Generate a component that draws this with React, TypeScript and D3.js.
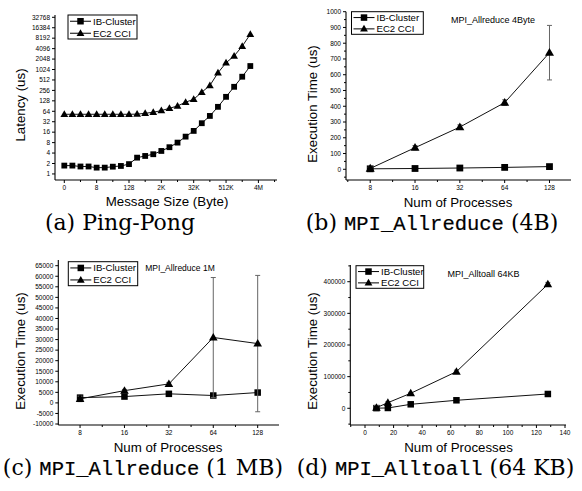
import React from 'react';
import * as d3 from 'd3';

// ---------- Panel (a) Ping-Pong ----------
const pingSizes = ["0","1","2","4","8","16","32","64","128","256","512","1K","2K","4K","8K","16K","32K","64K","128K","256K","512K","1M","2M","4M"];
const pingTickLabels = ["0","8","128","2K","32K","512K","4M"];
const pingIB = [1.74,1.74,1.64,1.64,1.52,1.52,1.62,1.7,1.92,2.95,3.3,3.7,4.6,5.9,8.0,11.9,17.4,29,47,86,167,325,635,1290];
const pingEC2 = [52.5,52.5,52.5,52.5,52.5,52.5,52.5,52.5,52.5,53,56,60,67,78,91,117,142,227,355,820,1600,2520,4800,10660];
const latencyTicks = [1,2,4,8,16,32,64,128,256,512,1024,2048,4096,8192,16384,32768];

// ---------- Panels (b)(c)(d) ----------
const procs = [8,16,32,64,128];
const procLabels = ["8","16","32","64","128"];

const ar4IB = [3,5,8,12,17];
const ar4EC2 = [5,137,268,423,740];
const ar4EC2Err = [8,14,14,18,173];

const ar1mIB = [2500,3000,4300,3500,4900];
const ar1mEC2 = [1900,5800,9000,31000,28100];
const ar1mEC2Err = [1300,600,700,28400,32300];

const a2aIB = [500,1000,12600,25300,45200];
const a2aEC2 = [2000,17700,47400,115700,391800];
const a2aEC2Err = [7000,3000,3000,5000,6000];

const seriesNames = ["IB-Cluster","EC2 CCI"];

const SANS = '"Liberation Sans", Arial, sans-serif';
const SERIF = '"DejaVu Serif", serif';
const MONO = '"Liberation Mono", monospace';

function Marker({ type, x, y, s }: { type: string; x: number; y: number; s: number }) {
  if (type === 'square') {
    return <rect x={x - s / 2} y={y - s / 2} width={s} height={s} fill="#000" />;
  }
  const pts = [[x, y - s * 0.62], [x - s * 0.6, y + s * 0.42], [x + s * 0.6, y + s * 0.42]];
  return <polygon points={pts.map(p => p.join(',')).join(' ')} fill="#000" />;
}

function Legend({ x0, y0, x1, y1 }: { x0: number; y0: number; x1: number; y1: number }) {
  const h = y1 - y0;
  const rows = [y0 + h * 0.26, y0 + h * 0.76];
  return (
    <g>
      <rect x={x0} y={y0} width={x1 - x0} height={h} fill="#fff" stroke="#000" strokeWidth={1} />
      {rows.map((ry, i) => (
        <g key={i}>
          <line x1={x0 + 2} x2={x0 + 23} y1={ry} y2={ry} stroke="#000" strokeWidth={1} />
          <Marker type={i === 0 ? 'square' : 'triangle'} x={x0 + 12.5} y={ry} s={6.5} />
          <text x={x0 + 25} y={ry + 3.4} fontSize={9.6} fontFamily={SANS}>{seriesNames[i]}</text>
        </g>
      ))}
    </g>
  );
}

type Ax = {
  x: (v: number) => number;
  y: (v: number) => number;
  left: number; right: number; top: number; bottom: number;
  xMajor: number[]; xLabels: string[]; xMinor: number[];
  yMajor: number[]; yLabels: string[]; yMinor: number[];
};

function Axes({ a }: { a: Ax }) {
  const fs = 6.5;
  return (
    <g fontFamily={SANS} fontSize={fs}>
      <line x1={a.left} x2={a.left} y1={a.top} y2={a.bottom} stroke="#000" strokeWidth={1.1} />
      <line x1={a.left} x2={a.right} y1={a.bottom} y2={a.bottom} stroke="#000" strokeWidth={1.1} />
      {a.yMajor.map((v, i) => (
        <g key={'ym' + i}>
          <line x1={a.left - 3} x2={a.left} y1={a.y(v)} y2={a.y(v)} stroke="#000" />
          <text x={a.left - 5} y={a.y(v) + 2.3} textAnchor="end">{a.yLabels[i]}</text>
        </g>
      ))}
      {a.yMinor.map((v, i) => (
        <line key={'yn' + i} x1={a.left - 2} x2={a.left} y1={a.y(v)} y2={a.y(v)} stroke="#000" />
      ))}
      {a.xMajor.map((v, i) => (
        <g key={'xm' + i}>
          <line x1={a.x(v)} x2={a.x(v)} y1={a.bottom} y2={a.bottom + 3} stroke="#000" />
          <text x={a.x(v)} y={a.bottom + 9.5} textAnchor="middle">{a.xLabels[i]}</text>
        </g>
      ))}
      {a.xMinor.map((v, i) => (
        <line key={'xn' + i} x1={a.x(v)} x2={a.x(v)} y1={a.bottom} y2={a.bottom + 2} stroke="#000" />
      ))}
    </g>
  );
}

function SeriesPlot({ xs, ys, err, type, x, y, s }: { xs: number[]; ys: number[]; err?: number[]; type: string; x: (v: number) => number; y: (v: number) => number; s: number }) {
  const line = d3.line<number>().x((_, i) => x(xs[i])).y(v => y(v));
  return (
    <g>
      {err && ys.map((v, i) => (
        <g key={'e' + i} stroke="#666" strokeWidth={1}>
          <line x1={x(xs[i])} x2={x(xs[i])} y1={y(v - err[i])} y2={y(v + err[i])} />
          <line x1={x(xs[i]) - 2.5} x2={x(xs[i]) + 2.5} y1={y(v - err[i])} y2={y(v - err[i])} />
          <line x1={x(xs[i]) - 2.5} x2={x(xs[i]) + 2.5} y1={y(v + err[i])} y2={y(v + err[i])} />
        </g>
      ))}
      <path d={line(ys) || ''} fill="none" stroke="#111" strokeWidth={1} />
      {ys.map((v, i) => <Marker key={i} type={type} x={x(xs[i])} y={y(v)} s={s} />)}
    </g>
  );
}

function AxisTitles({ xt, xx, xy, yt, yx, yy }: { xt: string; xx: number; xy: number; yt: string; yx: number; yy: number }) {
  return (
    <g fontFamily={SANS} fontSize={13.3}>
      <text x={xx} y={xy} textAnchor="middle">{xt}</text>
      <text transform={`translate(${yx},${yy}) rotate(-90)`} textAnchor="middle">{yt}</text>
    </g>
  );
}

function Caption({ x, y, pre, mono, post }: { x: number; y: number; pre: string; mono?: string; post?: string }) {
  return (
    <text x={x} y={y} textAnchor="middle" fontSize={22} fontFamily={SERIF}>
      <tspan>{pre}</tspan>
      {mono && <tspan fontFamily={MONO} fontSize={20.5} stroke="#000" strokeWidth={0.2}>{mono}</tspan>}
      {post && <tspan>{post}</tspan>}
    </text>
  );
}

export default function App() {
  // Panel a
  const pingIdx = pingSizes.map((_, i) => i);
  const ax = d3.scaleLinear().domain([-1.15, 26.3]).range([55, 277]);
  const ay = d3.scaleLog().base(2).domain([Math.pow(2, -0.58), Math.pow(2, 15.22)]).range([180, 15]);
  const axA: Ax = {
    x: ax, y: ay, left: 55, right: 277, top: 15, bottom: 180,
    xMajor: pingTickLabels.map((_, i) => i * 4), xLabels: pingTickLabels,
    xMinor: pingTickLabels.slice(0, -1).map((_, i) => i * 4 + 2).concat([26]),
    yMajor: latencyTicks, yLabels: latencyTicks.map(String), yMinor: [],
  };

  // Panel b
  const procIdx = procs.map((_, i) => i);
  const bx = d3.scaleLinear().domain([-0.54, 4.48]).range([346, 571]);
  const by = d3.scaleLinear().domain([-68, 1000]).range([180, 11.7]);
  const axB: Ax = {
    x: bx, y: by, left: 346, right: 571, top: 11.7, bottom: 180,
    xMajor: procIdx, xLabels: procLabels, xMinor: [-0.5, 0.5, 1.5, 2.5, 3.5, 4.5].filter(v => v > -0.54 && v < 4.48),
    yMajor: d3.range(0, 1001, 100), yLabels: d3.range(0, 1001, 100).map(String), yMinor: d3.range(50, 1000, 100).concat([-50]),
  };

  // Panel c
  const cx = d3.scaleLinear().domain([-0.49, 4.48]).range([58.3, 279]);
  const cy = d3.scaleLinear().domain([-10470, 67700]).range([425, 260]);
  const cTicks = d3.range(-10000, 65001, 5000);
  const axC: Ax = {
    x: cx, y: cy, left: 58.3, right: 279, top: 260, bottom: 425,
    xMajor: procIdx, xLabels: procLabels, xMinor: [0.5, 1.5, 2.5, 3.5],
    yMajor: cTicks, yLabels: cTicks.map(String), yMinor: [],
  };

  // Panel d
  const dx = d3.scaleLinear().domain([-10.3, 140.7]).range([350.3, 566]);
  const dy = d3.scaleLinear().domain([-52800, 452800]).range([425, 265]);
  const dTicks = d3.range(0, 400001, 100000);
  const dxTicks = d3.range(0, 141, 20);
  const axD: Ax = {
    x: dx, y: dy, left: 350.3, right: 566, top: 265, bottom: 425,
    xMajor: dxTicks, xLabels: dxTicks.map(String), xMinor: d3.range(-10, 141, 20),
    yMajor: dTicks, yLabels: dTicks.map(String), yMinor: d3.range(-50000, 450001, 100000),
  };

  return (
    <svg width={582} height={491} style={{ position: 'absolute', left: 0, top: 0, background: '#fff' }}>
      <rect width={582} height={491} fill="#fff" />
      {/* (a) */}
      <Axes a={axA} />
      <SeriesPlot xs={pingIdx} ys={pingIB} type="square" x={ax} y={ay} s={5.8} />
      <SeriesPlot xs={pingIdx} ys={pingEC2} type="triangle" x={ax} y={ay} s={6.5} />
      <Legend x0={68} y0={15} x1={137} y1={39} />
      <AxisTitles xt="Message Size (Byte)" xx={167} xy={206} yt="Latency (us)" yx={25} yy={105} />
      <Caption x={120} y={230} pre="(a) Ping-Pong" />

      {/* (b) */}
      <Axes a={axB} />
      <SeriesPlot xs={procIdx} ys={ar4IB} type="square" x={bx} y={by} s={6.8} />
      <SeriesPlot xs={procIdx} ys={ar4EC2} err={ar4EC2Err} type="triangle" x={bx} y={by} s={7.5} />
      <Legend x0={351.5} y0={11.7} x1={423.3} y1={34.3} />
      <text x={493} y={23} textAnchor="middle" fontSize={9} fontFamily={SANS}>MPI_Allreduce 4Byte</text>
      <AxisTitles xt="Num of Processes" xx={458} xy={206.5} yt="Execution Time (us)" yx={317} yy={104} />
      <Caption x={432} y={230} pre="(b) " mono="MPI_Allreduce" post=" (4B)" />

      {/* (c) */}
      <Axes a={axC} />
      <SeriesPlot xs={procIdx} ys={ar1mIB} type="square" x={cx} y={cy} s={6.5} />
      <SeriesPlot xs={procIdx} ys={ar1mEC2} err={ar1mEC2Err} type="triangle" x={cx} y={cy} s={7.2} />
      <Legend x0={68.3} y0={261.7} x1={137.7} y1={285.7} />
      <text x={180} y={271} textAnchor="middle" fontSize={8.5} fontFamily={SANS}>MPI_Allreduce 1M</text>
      <AxisTitles xt="Num of Processes" xx={168} xy={452} yt="Execution Time (us)" yx={25} yy={351} />
      <Caption x={143} y={475} pre="(c) " mono="MPI_Allreduce" post=" (1 MB)" />

      {/* (d) */}
      <Axes a={axD} />
      <SeriesPlot xs={procs} ys={a2aIB} type="square" x={dx} y={dy} s={6.5} />
      <SeriesPlot xs={procs} ys={a2aEC2} err={a2aEC2Err} type="triangle" x={dx} y={dy} s={7.2} />
      <Legend x0={356} y0={265.7} x1={423.7} y1={288.3} />
      <text x={483.5} y={276.5} textAnchor="middle" fontSize={9} fontFamily={SANS}>MPI_Alltoall 64KB</text>
      <AxisTitles xt="Num of Processes" xx={458.5} xy={452} yt="Execution Time (us)" yx={317} yy={351} />
      <Caption x={435.5} y={475} pre="(d) " mono="MPI_Alltoall" post=" (64 KB)" />
    </svg>
  );
}
